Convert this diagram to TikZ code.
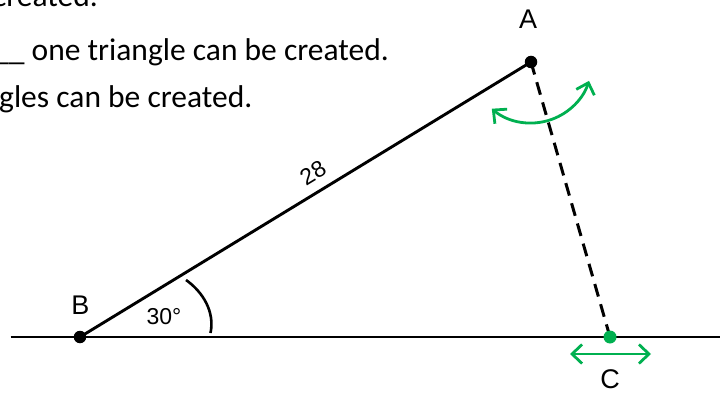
\documentclass[tikz,border=0pt]{standalone}
\usepackage{fontspec}
\setmainfont{Carlito}
\newfontfamily\labelfont{Liberation Sans}
\usetikzlibrary{arrows.meta,calc}
\definecolor{offgreen}{RGB}{0,176,80}
\begin{document}
\begin{tikzpicture}[x=1pt,y=-1pt,
  txt/.style={inner sep=0pt,font=\fontsize{31.5}{37}\selectfont},
  lbl/.style={inner sep=0pt,font=\labelfont\fontsize{27}{30}\selectfont},
  smalllbl/.style={inner sep=0pt,font=\labelfont\fontsize{23}{26}\selectfont},
  blackdot/.style={circle,fill=black,inner sep=0pt,minimum size=12.5pt},
  greendot/.style={circle,fill=offgreen,inner sep=0pt,minimum size=13pt},
  solidline/.style={line width=2.9pt,black},
  dashline/.style={line width=3pt,black,dash pattern=on 13pt off 8pt},
  greenarrow/.style={line width=2.8pt,offgreen,{Straight Barb[length=10pt,width=19pt]}-{Straight Barb[length=10pt,width=19pt]}},
  anglearc/.style={line width=2.6pt,black}
]
\useasboundingbox (0,0) rectangle (723,393);
\clip (0,0) rectangle (723,393);

% text lines at top left
\node[txt,anchor=base east] (t1) at (98,7) {created.};
\node[txt,anchor=base east] (t2) at (389,61) {\_\_\_ one triangle can be created.};
\node[txt,anchor=base west] (t3) at (-1,108) {gles can be created.};

% base line
\coordinate (L) at (10.5,337);
\coordinate (R) at (720,337);
\draw[solidline] (L) -- (R);

% points
\coordinate (Bp) at (80,337);
\coordinate (Ap) at (531,62);
\coordinate (Cp) at (610,337);

\draw[solidline] (Bp) -- (Ap);
\draw[dashline] (Ap) -- (Cp);

% angle arc
\coordinate (arcS) at (186,280);
\coordinate (arcE) at (210.5,333);
\draw[anglearc] (arcS) .. controls (203,292) and (215,312) .. (arcE);

% dots
\node[blackdot] (B) at (Bp) {};
\node[blackdot] (A) at (Ap) {};
\node[greendot] (C) at (Cp) {};

% green arrows
\draw[greenarrow] ($(Ap)+(130:61)$) arc[start angle=130,end angle=18,radius=61];
\coordinate (CL) at (570,354);
\coordinate (CR) at (651,354);
\draw[greenarrow] (CL) -- (CR);

% labels
\node[lbl] (la) at (528,19) {A};
\node[lbl] (lb) at (80.5,305) {B};
\node[lbl] (lc) at (610,379.5) {C};
\node[smalllbl] (ang) at (164,317) {30\textdegree};
\node[smalllbl,rotate=31.4] (len) at (313,173) {28};
\end{tikzpicture}
\end{document}
